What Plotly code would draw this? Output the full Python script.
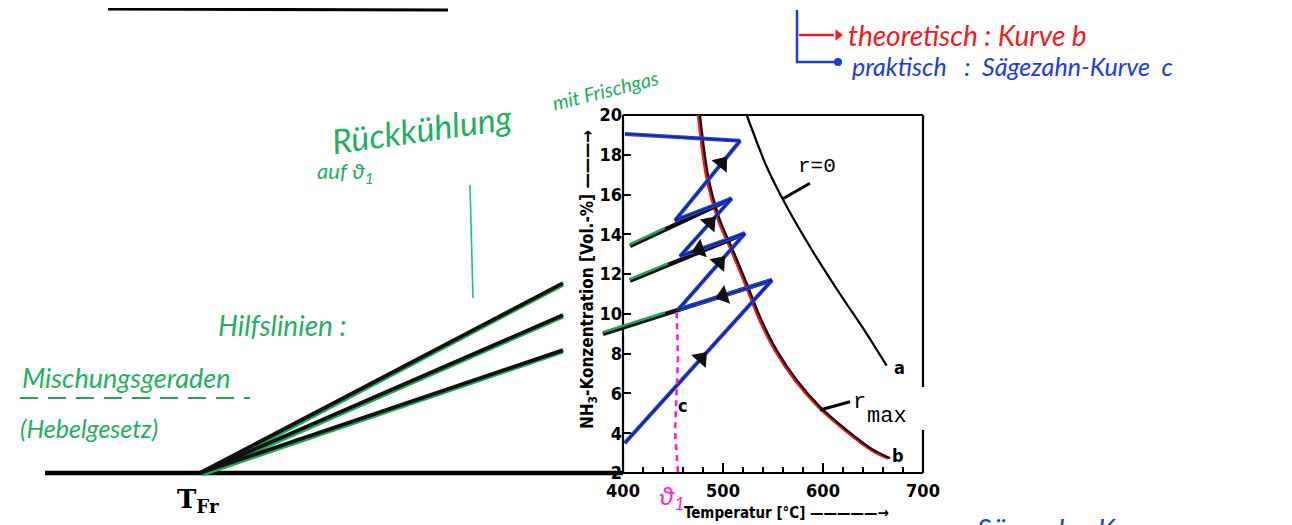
import math
import plotly.graph_objects as go

# ---------------- data ----------------
x_ticks = [400, 500, 600, 700]
x_tick_text = ["400", "500", "600", "700"]
x_minor = [420, 440, 460, 480, 520, 540, 560, 580, 620, 640, 660, 680]
y_ticks = [2, 4, 6, 8, 10, 12, 14, 16, 18, 20]
y_tick_text = ["2", "4", "6", "8", "10", "12", "14", "16", "18", "20"]

# curve a : r = 0
curve_a_T = [523.7, 543.7, 563.7, 590.3, 617, 643.7, 663.7]
curve_a_c = [20.0, 17.4, 15.4, 13.1, 11.0, 9.0, 7.4]

# curve b : r_max (theoretical optimum)
curve_b_T = [477, 485.3, 497, 510, 523.7, 537, 553.7, 573.7, 597, 623.7, 650.3, 667]
curve_b_c = [20.0, 16.9, 14.72, 13.2, 11.54, 9.86, 8.18, 6.68, 5.33, 4.16, 3.16, 2.74]

# curve c : saw-tooth path (practical)
saw_T = [401.7, 549, 455, 522, 457, 508.7, 452, 517, 402]
saw_c = [3.5, 11.7, 10.2, 14.05, 12.9, 15.8, 14.7, 18.7, 19.05]

# arrows on the saw-tooth: (segment index, fraction along segment)
saw_arrows = [(0, 0.52), (1, 0.52), (2, 0.62), (3, 0.70), (4, 0.58), (6, 0.72)]

# mixing lines inside the diagram
mix_T0 = [380, 407, 407]
mix_c0 = [9.0, 11.67, 13.42]
mix_T1 = [549, 522, 508.7]
mix_c1 = [11.7, 14.05, 15.8]
mix_green_T = [442, 445, 442]

# hand-drawn auxiliary lines from T_Fr
tfr_T = -23
tfr_c = 2.0
aux_end_T = [340, 340, 340]
aux_end_c = [11.55, 9.94, 8.18]

# theta_1 dashed line
theta_T = [453.7, 455, 452, 455]
theta_c = [10.08, 7.75, 4.1, 2.0]

# leaders
lead_a_T = [587, 560.3]
lead_a_c = [16.57, 15.8]
lead_b_T = [627, 597]
lead_b_c = [5.58, 5.17]

# ---------------- geometry helpers ----------------
W, H = 1292, 525
OFF = 8                     # page margin around the figure
SX = 1.0                    # px per unit x
SY = 358 / 18               # px per unit y
X0 = (OFF - 623) / SX + 400
X1 = X0 + W / SX
Y1 = 20 + (115 - OFF) / SY
Y0 = Y1 - H / SY


def px2x(px):               # page pixel -> data x
    return X0 + (px - OFF) / SX


def py2y(py):               # page pixel -> data y
    return Y1 - (py - OFF) / SY


fig = go.Figure()


def line(xs, ys, color="black", width=2, dash=None, shape="linear"):
    fig.add_trace(go.Scatter(x=xs, y=ys, mode="lines", hoverinfo="skip",
                             line=dict(color=color, width=width, dash=dash, shape=shape,
                                       smoothing=0.8 if shape == "spline" else None),
                             showlegend=False, cliponaxis=False))


def dy_px(p):
    return p / SY

# ---------------- frame ----------------
line([px2x(45), 400], [2, 2], width=4.5)
line([400, 700], [2, 2], width=2.2)
line([400, 400], [2, 20], width=2.2)
line([400, 700], [20, 20], width=2.2)
line([700, 700], [20, py2y(387)], width=2.2)
line([700, 700], [py2y(430), 2], width=2.2)

# ---------------- auxiliary fan lines ----------------
for xe, ye in zip(aux_end_T, aux_end_c):
    line([tfr_T + 3, xe], [tfr_c - dy_px(1.5), ye - dy_px(1.8)], color="#1fa85a", width=3.5)
    line([tfr_T, xe], [tfr_c, ye], color="#111111", width=3.8)

# ---------------- curves a and b ----------------
line(curve_a_T, curve_a_c, width=2.2, shape="spline")
line([t - 1.5 for t in curve_b_T], curve_b_c, color="#ee1c1c", width=3.5, shape="spline")
line(curve_b_T, curve_b_c, color="#111111", width=2.2, shape="spline")
line(lead_a_T, lead_a_c, width=3)
line(lead_b_T, lead_b_c, width=3)

# ---------------- mixing lines in diagram ----------------
for t0, c0, t1, c1, tg in zip(mix_T0, mix_c0, mix_T1, mix_c1, mix_green_T):
    line([t0, t1], [c0, c1], color="#111111", width=4.5)
    cg = c0 + (c1 - c0) * (tg - t0) / (t1 - t0)
    line([t0, tg], [c0 + dy_px(1.6), cg + dy_px(1.6)], color="#1fa85a", width=2.5)

# ---------------- saw-tooth curve ----------------
line(saw_T, saw_c, color="#2a45d8", width=4)
line(saw_T, saw_c, color="#10208a", width=1.4)

ax_, ay_, ang_ = [], [], []
for seg, f in saw_arrows:
    xa, ya = saw_T[seg], saw_c[seg]
    xb, yb = saw_T[seg + 1], saw_c[seg + 1]
    ax_.append(xa + (xb - xa) * f)
    ay_.append(ya + (yb - ya) * f)
    ang_.append(math.degrees(math.atan2((xb - xa) * SX, (yb - ya) * SY)))
fig.add_trace(go.Scatter(x=ax_, y=ay_, mode="markers", hoverinfo="skip", showlegend=False,
                         cliponaxis=False,
                         marker=dict(symbol="triangle-up", size=17, color="#111111",
                                     angle=ang_, line=dict(width=0))))

# ---------------- theta_1 dashed ----------------
line(theta_T, theta_c, color="#ff1fd0", width=2.6, dash="6px,5px")

# ---------------- hand-written decoration lines ----------------
line([px2x(108), px2x(448)], [py2y(9), py2y(10)], width=3)
line([px2x(470), px2x(473)], [py2y(185), py2y(298)], color="#22c07a", width=1.6)
line([px2x(20), px2x(250)], [py2y(398), py2y(398)], color="#1fa85a", width=2, dash="18px,10px")
line([px2x(797), px2x(797), px2x(836)], [py2y(10), py2y(62), py2y(62)], color="#1a3de0", width=2.5)
fig.add_trace(go.Scatter(x=[px2x(838)], y=[py2y(62)], mode="markers", hoverinfo="skip",
                         showlegend=False, cliponaxis=False,
                         marker=dict(size=8, color="#1a3de0")))
line([px2x(799), px2x(834)], [py2y(35), py2y(35)], color="#ee1c1c", width=2.5)
fig.add_trace(go.Scatter(x=[px2x(838)], y=[py2y(35)], mode="markers", hoverinfo="skip",
                         showlegend=False, cliponaxis=False,
                         marker=dict(symbol="triangle-right", size=10, color="#ee1c1c")))

# ---------------- annotations ----------------
TICKF = "Liberation Sans Narrow, DejaVu Sans Condensed, Arial Narrow, sans-serif"
MONO = "Liberation Mono, DejaVu Sans Mono, Courier New, monospace"
HAND = "Lato, Open Sans, Noto Sans, sans-serif"
GREEN = "#1fb060"


def note(text, x, y, size, color="black", family=HAND, angle=0, xanchor="center",
         yanchor="middle", weight="normal", style="normal"):
    fig.add_annotation(x=x, y=y, xref="x", yref="y", text=text, showarrow=False,
                       xanchor=xanchor, yanchor=yanchor, textangle=angle,
                       font=dict(family=family, size=size, color=color, weight=weight,
                                 style=style))


note("r=0", 594, 17.4, 21, family=MONO)
note("a", 676, 7.3, 18, family=TICKF, weight="bold")
note("b", 675, 2.9, 18, family=TICKF, weight="bold")
note("c", 460, 5.4, 18, family=TICKF, weight="bold")
note("r", 636, 5.55, 22, family=MONO)
note("max", 664, 4.85, 22, family=MONO)

note("NH<sub>3</sub>-Konzentration [Vol.-%] ———→", px2x(588), py2y(280), 17,
     family=TICKF, angle=-90, weight="bold")
note("Temperatur [°C] —————→", px2x(682), py2y(513), 15, family=TICKF,
     xanchor="left", weight="bold")
note("ϑ<sub>1</sub>", px2x(672), py2y(496), 26, color="#ff1fd0", style="italic")
note("T<sub>Fr</sub>", px2x(198), py2y(500), 26, family="DejaVu Serif, serif", weight="bold")

note("Rückkühlung", px2x(422), py2y(128), 34, color=GREEN, angle=-8, style="italic")
note("mit Frischgas", px2x(605), py2y(90), 20, color=GREEN, angle=-14, style="italic")
note("auf ϑ<sub>1</sub>", px2x(345), py2y(172), 22, color=GREEN, style="italic")
note("Hilfslinien :", px2x(282), py2y(325), 28, color=GREEN, style="italic")
note("Mischungsgeraden", px2x(20), py2y(377), 27, color=GREEN, xanchor="left", style="italic")
note("(Hebelgesetz)", px2x(18), py2y(428), 25, color=GREEN, xanchor="left", style="italic")

note("theoretisch : Kurve b", px2x(846), py2y(35), 28, color="#ee1c1c",
     xanchor="left", style="italic")
note("praktisch   :  Sägezahn-Kurve  c", px2x(850), py2y(66), 25, color="#1a3de0",
     xanchor="left", style="italic")
note("Sägezahn-Kurve", px2x(975), py2y(510), 28, color="#1a3de0", xanchor="left",
     yanchor="top", style="italic")

# ---------------- layout ----------------
fig.update_layout(
    width=W, height=H, margin=dict(l=0, r=0, t=0, b=0),
    paper_bgcolor="white", plot_bgcolor="white", showlegend=False,
    xaxis=dict(range=[X0, X1], domain=[0, 1], anchor="free",
               position=1 - (473 - OFF) / H,
               showgrid=False, zeroline=False, showline=False,
               tickmode="array", tickvals=x_ticks, ticktext=x_tick_text,
               ticks="inside", ticklen=10, tickwidth=2, tickcolor="black",
               ticklabelstandoff=5,
               tickfont=dict(family=TICKF, size=18, color="black", weight="bold"),
               minor=dict(tickmode="array", tickvals=x_minor, ticks="inside",
                          ticklen=6, tickwidth=1.6, tickcolor="black"),
               fixedrange=True),
    yaxis=dict(range=[Y0, Y1], domain=[0, 1], anchor="free",
               position=(623 - OFF) / W,
               showgrid=False, zeroline=False, showline=False,
               tickmode="array", tickvals=y_ticks, ticktext=y_tick_text,
               ticks="inside", ticklen=7, tickwidth=2, tickcolor="black",
               ticklabelstandoff=1,
               tickfont=dict(family=TICKF, size=18, color="black", weight="bold"),
               fixedrange=True),
)

fig.write_html("out.html")
